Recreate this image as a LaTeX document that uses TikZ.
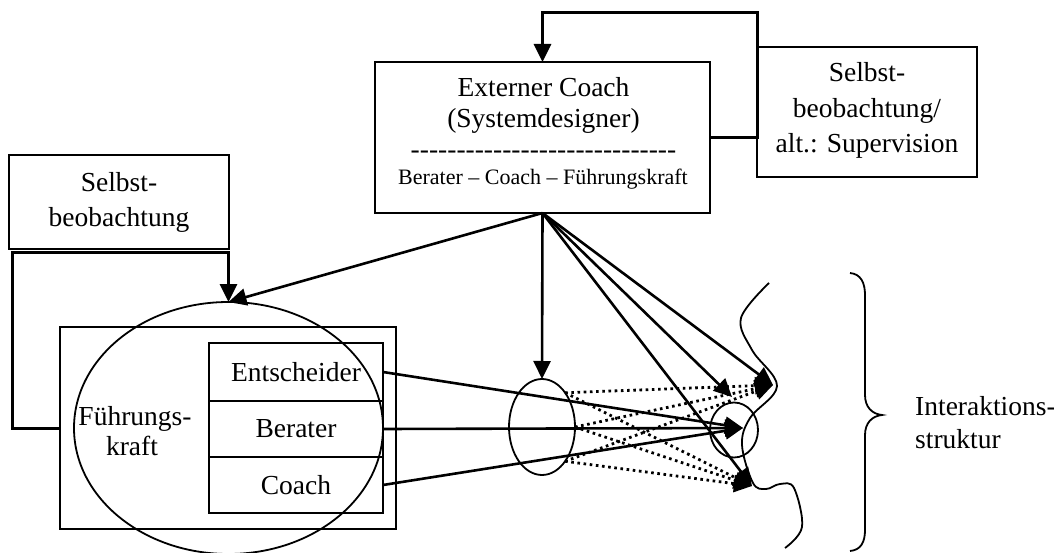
\documentclass[tikz,border=0pt]{standalone}
\usepackage{fontspec}
\setmainfont{Liberation Serif}
\usetikzlibrary{arrows.meta,shapes.geometric}
\newcommand\hh{-\kern0pt}
\begin{document}
\begin{tikzpicture}[x=1pt,y=-1pt,
  box/.style={draw,line width=1.8pt,inner sep=0pt,outer sep=0pt},
  big/.style={font=\fontsize{27.5}{31}\selectfont},
  small/.style={font=\fontsize{22}{25}\selectfont},
  lbl/.style={anchor=base,inner sep=0pt},
  arr/.style={line width=2.6pt,-{Triangle[length=18pt,width=17pt]}},
  fb/.style={line width=3pt,-{Triangle[length=18pt,width=17pt]}},
  dots/.style={line width=2.8pt,dash pattern=on 2.6pt off 3.6pt,-{Triangle[length=18pt,width=17pt]}},
  ell/.style={draw,ellipse,line width=1.8pt,inner sep=0pt,outer sep=0pt}]
\useasboundingbox (0,0) rectangle (1054,553);

% Externer Coach
\node[box,minimum width=335pt,minimum height=151pt] (coach) at (542.5,137.5) {};
\node[lbl,big] (c1) at (543.5,97) {Externer Coach};
\node[lbl,big] (c2) at (543.5,128) {(Systemdesigner)};
\node[lbl,big] (c3) at (543.5,159) {\hh\hh\hh\hh\hh\hh\hh\hh\hh\hh\hh\hh\hh\hh\hh\hh\hh\hh\hh\hh\hh\hh\hh\hh\hh\hh\hh\hh\hh};
\node[lbl,small] (c4) at (543,185) {Berater – Coach – Führungskraft};

% Selbstbeobachtung / Supervision
\node[box,minimum width=220pt,minimum height=130pt] (sup) at (867,112) {};
\node[lbl,big] (s1) at (867,82) {Selbst-};
\node[lbl,big] (s2) at (867,118) {beobachtung/};
\node[lbl,big] (s3) at (867,153) {alt.: Supervision};

% Selbstbeobachtung left
\node[box,minimum width=220pt,minimum height=94pt] (sb) at (119,202) {};
\node[lbl,big] (b1) at (119,192) {Selbst-};
\node[lbl,big] (b2) at (119,227) {beobachtung};

% Fuehrungskraft
\node[box,minimum width=336pt,minimum height=202pt] (outer) at (228,428) {};
\node[box,big,minimum width=174pt,minimum height=58pt] (ent) at (296,372) {Entscheider};
\node[box,big,minimum width=174pt,minimum height=56pt] (ber) at (296,429) {Berater};
\node[box,big,minimum width=174pt,minimum height=56pt] (coa) at (296,485) {Coach};
\node[ell,minimum width=309pt,minimum height=252pt] (fk) at (228.5,428) {};
\node[lbl,big] (f1) at (135,425) {Führungs-};
\node[lbl,big] (f2) at (132,455) {kraft};

% ellipses on the right
\node[ell,minimum width=66pt,minimum height=96pt] (mid) at (542,427) {};
\node[ell,minimum width=48pt,minimum height=55pt] (sc) at (734,430) {};

\coordinate (t1) at (773,385);
\coordinate (t2) at (752,486);
\coordinate (tm) at (732,397);
\coordinate (tb) at (743,428);

% feedback loops
\draw[fb] (coach.east) -- (sup.west |- coach.east) -- ([yshift=34pt]sup.north west) -| (coach.north);
\draw[fb] (outer.west) -- ++(-48,0) -- ++(0,-175) -| (fk.north);

% coach fan
\draw[arr] (coach.south) -- (fk.north);
\draw[arr] (coach.south) -- (mid.north);
\draw[arr] (coach.south) -- (t1);
\draw[arr] (coach.south) -- (tm);
\draw[arr] (coach.south) -- (t2);

% rows
\draw[arr] (ent.east) -- (tb);
\draw[arr] (ber.east) -- (tb);
\draw[arr] (coa.east) -- (tb);

% dotted
\draw[dots] (mid.56) -- (t1);
\draw[dots] (mid.east) -- (t1);
\draw[dots] (mid.-56) -- (t1);
\draw[dots] (mid.56) -- (t2);
\draw[dots] (mid.east) -- (t2);
\draw[dots] (mid.-56) -- (t2);

% wavy line
\draw[line width=1.8pt] plot[smooth,tension=0.6] coordinates {(769,283) (741,318) (752,350) (777,386) (750,418) (742,445) (753,483) (766,489) (780,484) (794,488) (802,527) (785,548)};

% brace
\draw[line width=1.8pt] (850,273) .. controls (861,274) and (865,283) .. (865,295) -- (865,395) .. controls (865,407) and (872,414) .. (882,415) .. controls (872,416) and (865,423) .. (865,435) -- (865,530) .. controls (865,542) and (861,550) .. (850,551);

\node[lbl,big,anchor=base west] (i1) at (915,415) {Interaktions-};
\node[lbl,big,anchor=base west] (i2) at (915,448) {struktur};
\end{tikzpicture}
\end{document}
